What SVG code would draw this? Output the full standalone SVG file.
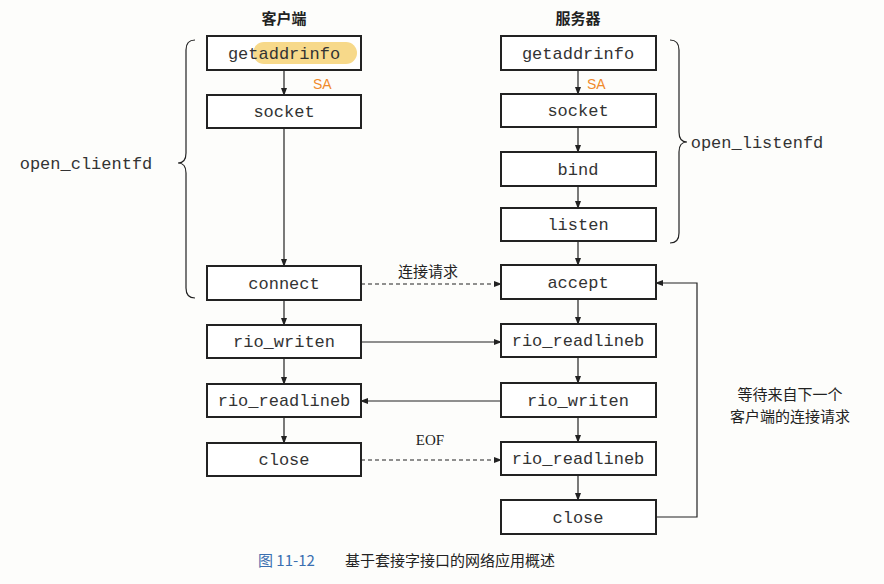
<svg xmlns="http://www.w3.org/2000/svg" width="884" height="584" viewBox="0 0 884 584">
<defs>
<marker id="ah" markerWidth="8" markerHeight="8" refX="7" refY="4" orient="auto" markerUnits="userSpaceOnUse"><path d="M0,1 L8,4 L0,7 Z" fill="#222"/></marker>
<style>
.b{fill:#fff;stroke:#222;stroke-width:2}
.m{font-family:"Liberation Mono",monospace;font-size:17px;fill:#333;text-anchor:middle}
.c{font-family:"Noto Sans CJK SC",sans-serif;font-size:15px;fill:#222}
.l{stroke:#222;stroke-width:1.2;fill:none}
.d{stroke:#222;stroke-width:1.2;fill:none;stroke-dasharray:4 3}
</style>
</defs>
<rect width="884" height="584" fill="#fdfdfb"/>
<text class="c" x="284" y="24" text-anchor="middle" font-weight="bold" font-size="16">客户端</text>
<text class="c" x="578" y="24" text-anchor="middle" font-weight="bold" font-size="16">服务器</text>
<g id="connectors">
<line class="l" x1="284" y1="70" x2="284" y2="95" marker-end="url(#ah)"/>
<line class="l" x1="284" y1="128" x2="284" y2="266" marker-end="url(#ah)"/>
<line class="l" x1="284" y1="300" x2="284" y2="325" marker-end="url(#ah)"/>
<line class="l" x1="284" y1="358" x2="284" y2="384" marker-end="url(#ah)"/>
<line class="l" x1="284" y1="417" x2="284" y2="443" marker-end="url(#ah)"/>
<line class="l" x1="578" y1="70" x2="578" y2="94" marker-end="url(#ah)"/>
<line class="l" x1="578" y1="127" x2="578" y2="152" marker-end="url(#ah)"/>
<line class="l" x1="578" y1="186" x2="578" y2="208" marker-end="url(#ah)"/>
<line class="l" x1="578" y1="241" x2="578" y2="265" marker-end="url(#ah)"/>
<line class="l" x1="578" y1="299" x2="578" y2="324" marker-end="url(#ah)"/>
<line class="l" x1="578" y1="357" x2="578" y2="383" marker-end="url(#ah)"/>
<line class="l" x1="578" y1="417" x2="578" y2="442" marker-end="url(#ah)"/>
<line class="l" x1="578" y1="475" x2="578" y2="500" marker-end="url(#ah)"/>
<line class="d" x1="361" y1="284" x2="501" y2="284" marker-end="url(#ah)"/>
<line class="l" x1="361" y1="342" x2="501" y2="342" marker-end="url(#ah)"/>
<line class="l" x1="501" y1="401" x2="361" y2="401" marker-end="url(#ah)"/>
<line class="d" x1="361" y1="460" x2="501" y2="460" marker-end="url(#ah)"/>
<path class="l" d="M656,517 H697 V283 H656" marker-end="url(#ah)"/>
<path class="l" d="M195,40 Q186,40 186,50 V153 Q186,163 178,163 Q186,163 186,173 V288 Q186,298 195,298"/>
<path class="l" d="M670,40 Q679,40 679,50 V132 Q679,142 687,142 Q679,142 679,152 V233 Q679,243 670,243"/>
</g>
<text class="c" x="428" y="277" text-anchor="middle">连接请求</text>
<text x="430" y="445" text-anchor="middle" font-family="Liberation Serif,serif" font-size="15" fill="#222">EOF</text>
<text class="m" x="86" y="169">open_clientfd</text>
<text class="m" x="757" y="148">open_listenfd</text>
<text class="c" x="790" y="400" text-anchor="middle">等待来自下一个</text>
<text class="c" x="790" y="422" text-anchor="middle">客户端的连接请求</text>
<g font-family="Liberation Sans,sans-serif" font-size="14" fill="#f08a2a"><text x="313" y="89">SA</text><text x="587" y="89">SA</text></g>
<g id="c1"><rect class="b" x="207" y="36" width="154" height="34"/><rect x="253" y="42" width="104" height="22" rx="11" fill="#f7d98a"/><text class="m" x="284" y="59">getaddrinfo</text></g>
<g id="c2"><rect class="b" x="207" y="95" width="154" height="33"/><text class="m" x="284" y="117">socket</text></g>
<g id="c3"><rect class="b" x="207" y="266" width="154" height="34"/><text class="m" x="284" y="289">connect</text></g>
<g id="c4"><rect class="b" x="207" y="325" width="154" height="33"/><text class="m" x="284" y="347">rio_writen</text></g>
<g id="c5"><rect class="b" x="207" y="384" width="154" height="33"/><text class="m" x="284" y="406">rio_readlineb</text></g>
<g id="c6"><rect class="b" x="207" y="443" width="154" height="33"/><text class="m" x="284" y="465">close</text></g>
<g id="s1"><rect class="b" x="501" y="36" width="155" height="34"/><text class="m" x="578" y="59">getaddrinfo</text></g>
<g id="s2"><rect class="b" x="501" y="94" width="155" height="33"/><text class="m" x="578" y="116">socket</text></g>
<g id="s3"><rect class="b" x="501" y="152" width="155" height="34"/><text class="m" x="578" y="175">bind</text></g>
<g id="s4"><rect class="b" x="501" y="208" width="155" height="33"/><text class="m" x="578" y="230">listen</text></g>
<g id="s5"><rect class="b" x="501" y="265" width="155" height="34"/><text class="m" x="578" y="288">accept</text></g>
<g id="s6"><rect class="b" x="501" y="324" width="155" height="33"/><text class="m" x="578" y="346">rio_readlineb</text></g>
<g id="s7"><rect class="b" x="501" y="383" width="155" height="34"/><text class="m" x="578" y="406">rio_writen</text></g>
<g id="s8"><rect class="b" x="501" y="442" width="155" height="33"/><text class="m" x="578" y="464">rio_readlineb</text></g>
<g id="s9"><rect class="b" x="501" y="500" width="155" height="34"/><text class="m" x="578" y="523">close</text></g>
<text x="258" y="566" font-family="Noto Sans CJK SC,sans-serif" font-size="15" fill="#3a6fb0">图 11-12</text>
<text class="c" x="345" y="566">基于套接字接口的网络应用概述</text>
</svg>
